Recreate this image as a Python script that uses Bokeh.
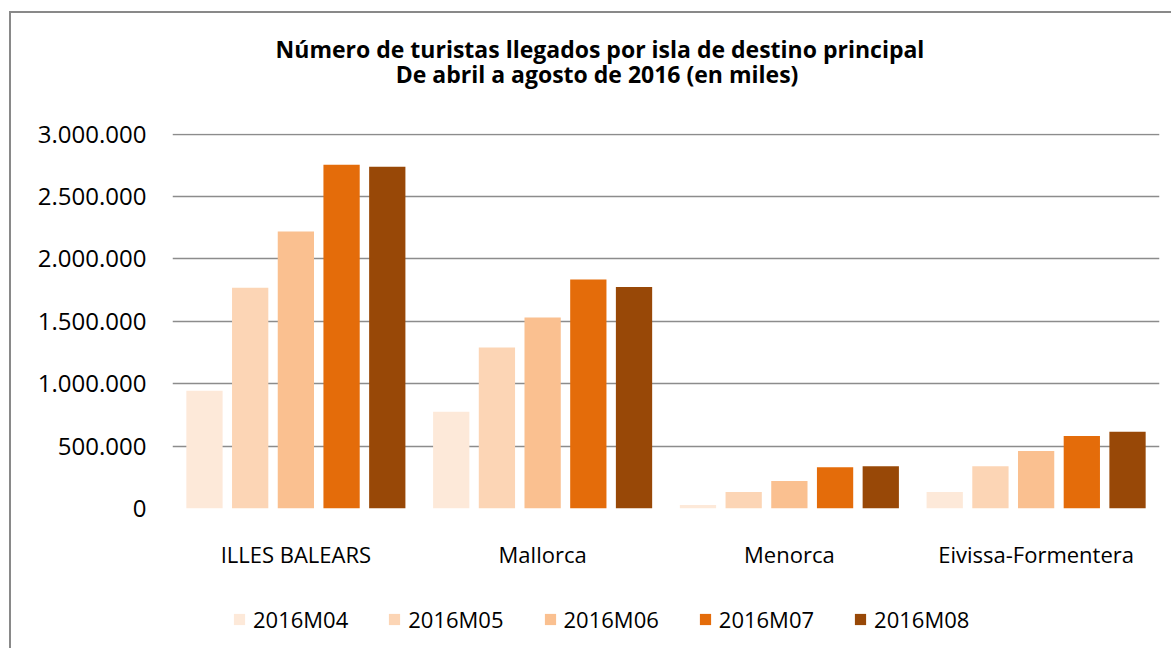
from bokeh.plotting import figure
from bokeh.layouts import column
from bokeh.models import (ColumnDataSource, FactorRange, Range1d, FixedTicker, Legend,
                          LegendItem, Label)
from bokeh.transform import dodge
from bokeh.embed import file_html
from bokeh.resources import INLINE

islands = ["ILLES BALEARS", "Mallorca", "Menorca", "Eivissa-Formentera"]
months = ["2016M04", "2016M05", "2016M06", "2016M07", "2016M08"]
m04 = [944000, 776000, 29000, 133000]
m05 = [1770000, 1291000, 133000, 339000]
m06 = [2221000, 1531000, 221000, 461000]
m07 = [2755000, 1835000, 331000, 581000]
m08 = [2739000, 1776000, 339000, 616000]
colors = ["#FDE9D9", "#FCD5B5", "#FAC090", "#E46C0A", "#984807"]
y_ticks = [0, 500000, 1000000, 1500000, 2000000, 2500000, 3000000]
y_tick_labels = ["0", "500.000", "1.000.000", "1.500.000", "2.000.000", "2.500.000", "3.000.000"]
title_lines = ["Número de turistas llegados por isla de destino principal",
               "De abril a agosto de 2016  (en miles)"]

series = [m04, m05, m06, m07, m08]
data = {"island": islands}
for name, vals in zip(months, series):
    data[name] = vals
source = ColumnDataSource(data)

FONT = "Open Sans"
W = 1160
FW = 987  # width of the aligned plot frames in pixels

# ---- title strip ----
TH = 100
tf = figure(width=W, height=TH, x_range=Range1d(0, FW), y_range=Range1d(0, TH),
            output_backend="svg", toolbar_location=None, min_border=0)
tf.axis.visible = False
tf.grid.visible = False
tf.outline_line_color = None
for txt, yb in zip(title_lines, [64.7, 39.7]):
    tf.add_layout(Label(x=427.5, y=yb, text=txt, text_align="center", text_baseline="alphabetic",
                        text_font=FONT, text_font_style="bold", text_font_size="23px",
                        text_color="#000000"))

# ---- main chart ----
p = figure(width=W, height=477, x_range=FactorRange(*islands, range_padding=0),
           y_range=Range1d(0, 3006000), output_backend="svg", toolbar_location=None,
           min_border_left=161, min_border_right=12, min_border_top=20, min_border_bottom=82)
p.outline_line_color = None

step = 0.1852
width = 0.147
for i, (name, col) in enumerate(zip(months, colors)):
    p.vbar(x=dodge("island", (i - 2) * step, range=p.x_range), top=name, width=width,
           source=source, fill_color=col, line_color=None)

p.xgrid.grid_line_color = None
p.ygrid.grid_line_color = "#8c8c8c"
p.ygrid.grid_line_width = 1.6

p.yaxis.ticker = FixedTicker(ticks=y_ticks)
p.yaxis.major_label_overrides = {t: l for t, l in zip(y_ticks, y_tick_labels)}
p.yaxis.axis_line_color = None
p.yaxis.major_tick_line_color = None
p.yaxis.minor_tick_line_color = None
p.yaxis.major_tick_out = 0
p.yaxis.major_label_standoff = 26
p.yaxis.major_label_text_font = FONT
p.yaxis.major_label_text_font_size = "24px"
p.yaxis.major_label_text_color = "#000000"

p.xaxis.axis_line_color = None
p.xaxis.major_tick_line_color = None
p.xaxis.minor_tick_line_color = None
p.xaxis.major_tick_out = 0
p.xaxis.major_label_standoff = 30
p.xaxis.major_label_text_font = FONT
p.xaxis.major_label_text_font_size = "22px"
p.xaxis.major_label_text_color = "#000000"

# ---- legend strip ----
LH = 58
lf = figure(width=W, height=LH, x_range=Range1d(0, 1), y_range=Range1d(0, 1),
            output_backend="svg", toolbar_location=None, min_border=0)
lf.axis.visible = False
lf.grid.visible = False
lf.outline_line_color = None
items = []
for name, col in zip(months, colors):
    # legend swatch only: a placeholder with no drawable value
    r = lf.vbar(x=[float("nan")], top=[float("nan")], width=0.1, fill_color=col, line_color=None)
    items.append(LegendItem(label=name, renderers=[r]))
legend = Legend(items=items, orientation="horizontal", location=(60, 14),
                glyph_width=14, glyph_height=14, label_standoff=7, spacing=39,
                padding=0, margin=0, border_line_color=None, background_fill_alpha=0,
                label_text_font=FONT, label_text_font_size="22px", label_text_color="#000000")
lf.add_layout(legend)

layout = column(tf, p, lf, spacing=0)
layout.styles = {"border-left": "2px solid #898989", "border-top": "2px solid #898989",
                 "margin-left": "9px", "margin-top": "11px"}

open("out.html", "w").write(file_html(layout, INLINE))
